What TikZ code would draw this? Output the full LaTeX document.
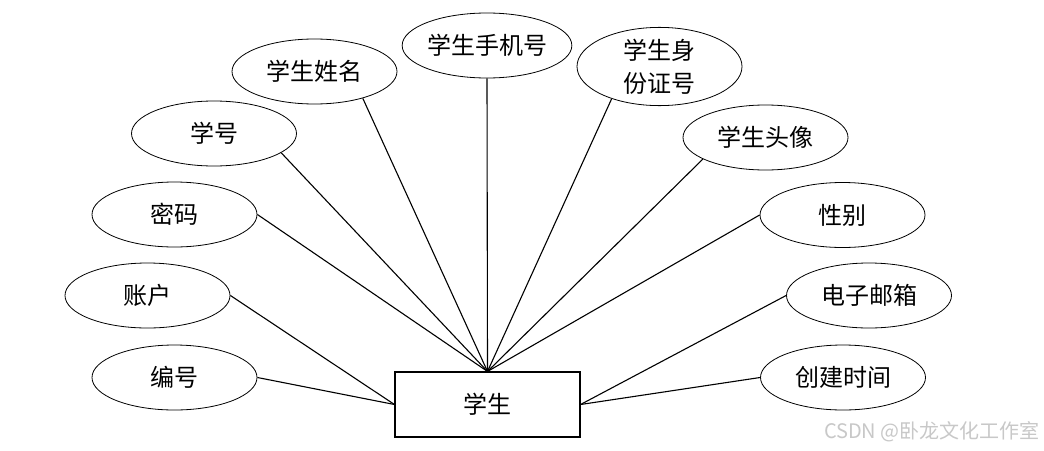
\documentclass[tikz,border=0pt]{standalone}
\usepackage{fontspec}
\setmainfont{Liberation Serif}
\newfontfamily\cjk{Noto Sans CJK SC}
\usetikzlibrary{shapes.geometric}
\definecolor{wmgray}{RGB}{200,200,200}
\begin{document}
\begin{tikzpicture}[x=1pt,y=-1pt,
  attr/.style={ellipse,draw,line width=0.8pt,minimum width=165pt,minimum height=65pt,inner sep=0pt,
    font=\cjk\fontsize{24}{33}\selectfont,align=center},
  entity/.style={draw,line width=1.1pt,minimum width=185pt,minimum height=65pt,inner sep=0pt,
    font=\cjk\fontsize{24}{30}\selectfont},
  conn/.style={line width=1.1pt}]
\useasboundingbox[fill=white] (0,0) rectangle (1044,450);
\node[attr] (name) at (314.5,71.5) {学生姓名};
\node[attr] (phone) at (487,45.5) {学生手机号};
\node[attr] (xh) at (214,133.5) {学号};
\node[attr] (idc) at (659.5,66.5) {学生身\\份证号};
\node[attr] (avatar) at (765.5,137.5) {学生头像};
\node[attr] (sex) at (842.5,215) {性别};
\node[attr] (email) at (869,295.5) {电子邮箱};
\node[attr] (ctime) at (843,377.5) {创建时间};
\node[attr] (pwd) at (174.5,214.5) {密码};
\node[attr] (acct) at (147.5,295.5) {账户};
\node[attr] (num) at (174.5,377.5) {编号};
\node[entity] (stu) at (487.5,404.5) {学生};
\draw[conn] (pwd.east) -- (stu.north);
\draw[conn] (xh.-16) -- (stu.north);
\draw[conn] (name.-29) -- (stu.north);
\draw[conn] (phone.south) -- (stu.north);
\draw[conn] (idc.214) -- (stu.north);
\draw[conn] (avatar.199) -- (stu.north);
\draw[conn] (sex.west) -- (stu.north);
\draw[conn] (acct.east) -- (stu.west);
\draw[conn] (num.east) -- (stu.west);
\draw[conn] (email.west) -- (stu.east);
\draw[conn] (ctime.west) -- (stu.east);
\node[anchor=east,inner sep=0pt,text=wmgray,font=\cjk\fontsize{20}{24}\selectfont] (wm) at (1040,432) {CSDN @卧龙文化工作室};
\end{tikzpicture}
\end{document}
